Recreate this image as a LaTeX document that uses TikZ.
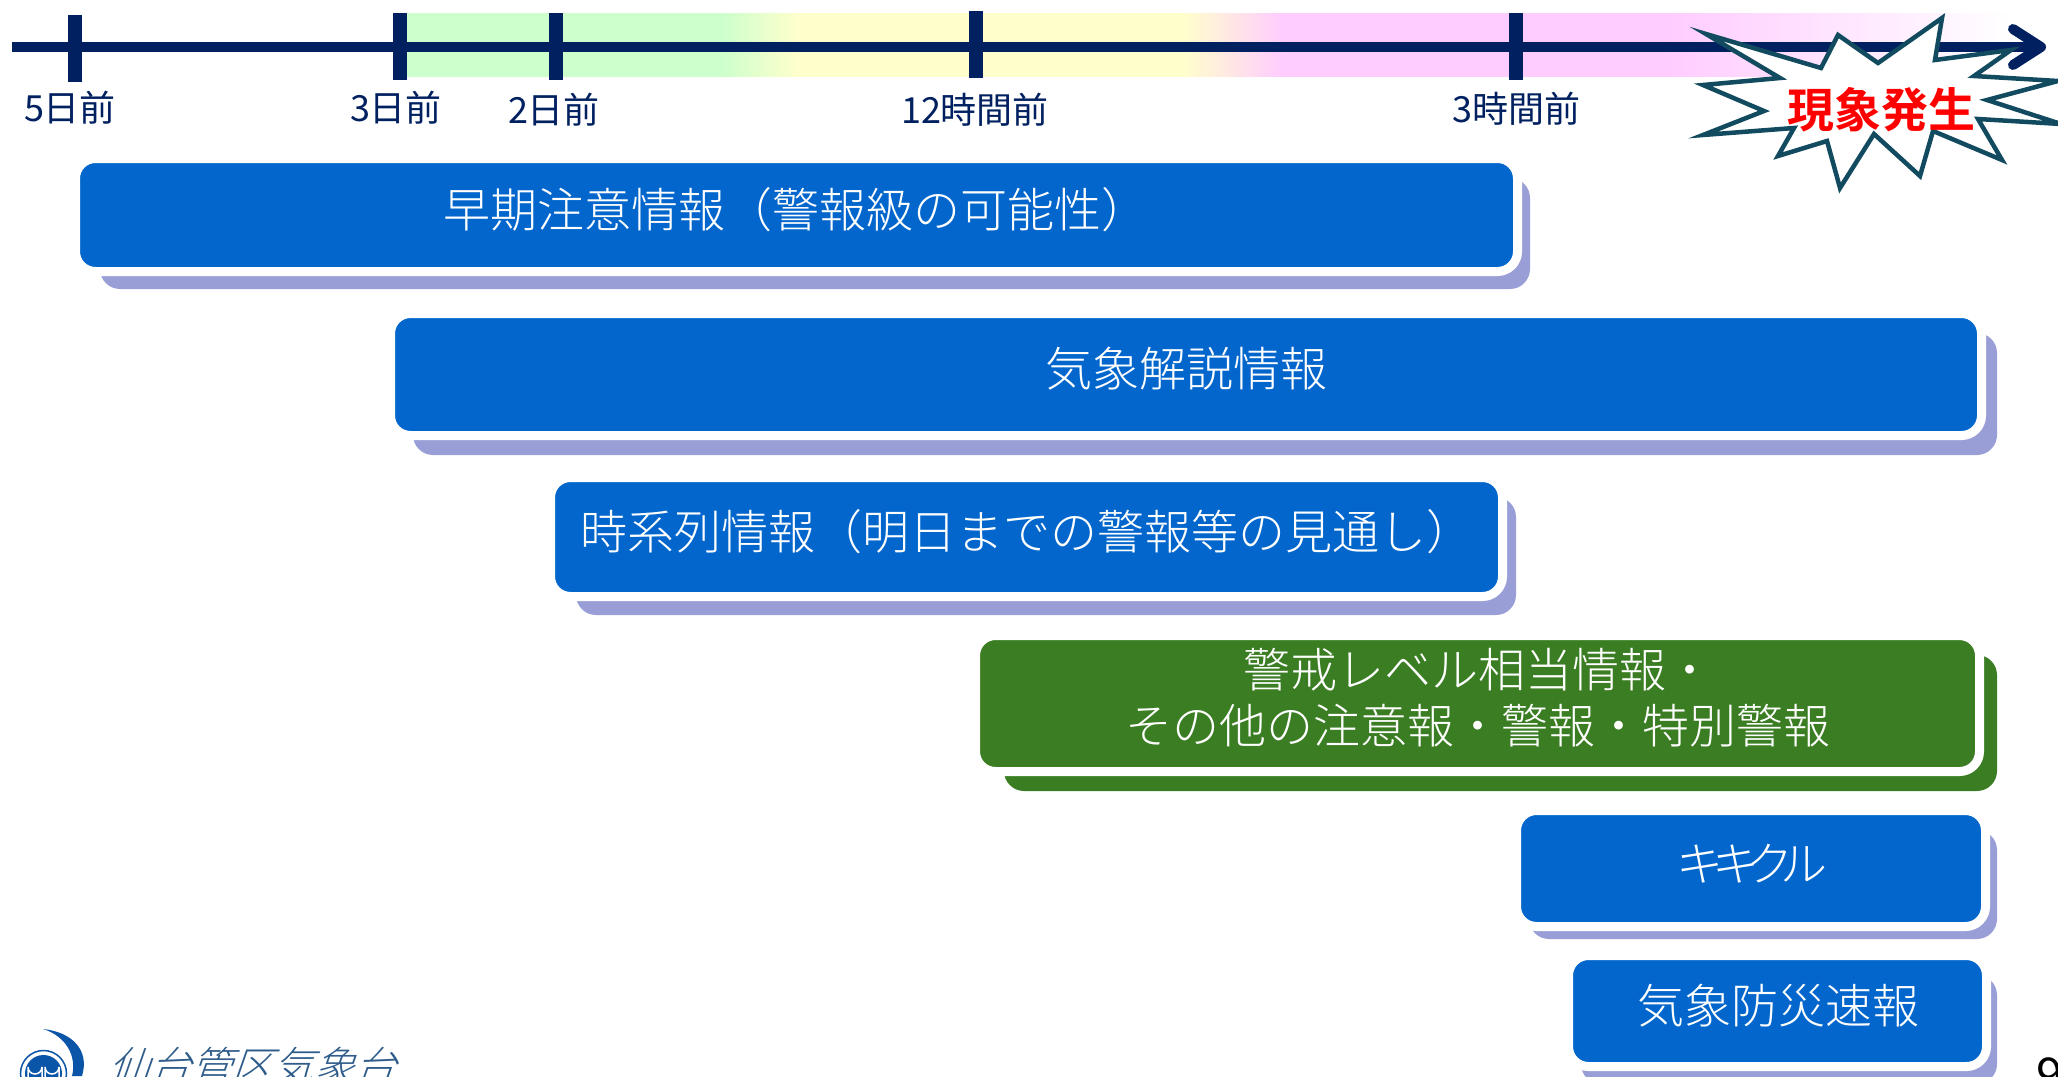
\documentclass[tikz,border=0pt]{standalone}
\usepackage{fontspec}
\setmainfont{Noto Sans CJK JP Light}[BoldFont={Noto Sans CJK JP Bold}]
\newfontfamily\regularfont{Noto Sans CJK JP}
\newfontfamily\logofont[FakeSlant=0.35]{Noto Sans CJK JP Light}
\usetikzlibrary{arrows.meta}
\definecolor{axisnavy}{HTML}{002060}
\definecolor{boxblue}{HTML}{0266CC}
\definecolor{boxgreen}{HTML}{3B7D23}
\definecolor{shadowblue}{HTML}{999FD6}
\definecolor{burstedge}{HTML}{124B5F}
\definecolor{logoblue}{HTML}{0B55A8}
\definecolor{logotext}{HTML}{2F5C8A}
\definecolor{bandgreen}{HTML}{CCFFCC}
\definecolor{bandyellow}{HTML}{FFFFCC}
\definecolor{bandpink}{HTML}{FFCCFF}
\tikzset{
  tick/.style={draw=none,fill=axisnavy,minimum width=13.5pt,inner sep=0pt},
  ticklabel/.style={text=axisnavy,font=\regularfont\fontsize{36}{40}\selectfont,inner sep=0pt},
  shadowbox/.style={rounded corners=20pt},
  infobox/.style={draw=white,line width=9pt,rounded corners=20pt},
  infotext/.style={text=white,font=\fontsize{47}{56}\selectfont,align=center,inner sep=0pt},
}
\newcommand{\infobar}[8]{% fill, shadow fill, x1, y1, x2, y2, shadow x1, shadow corner
  \fill [shadowbox,fill=#2] (#7,#4+15) rectangle (#8);
  \draw [infobox,fill=#1] (#3-4.5,#4-4.5) rectangle (#5+4.5,#6+4.5);
}
\begin{document}
\begin{tikzpicture}[x=1pt,y=-1pt]
\useasboundingbox (0,0) rectangle (2058,1076);
\clip (0,0) rectangle (2058,1076);

% colour band behind the axis
\foreach \xa/\xb/\ca/\cb in {400/721/bandgreen/bandgreen,721/798/bandgreen/bandyellow,
  798/1183/bandyellow/bandyellow,1183/1282/bandyellow/bandpink,
  1282/1667/bandpink/bandpink,1667/2012/bandpink/white}
  \shade [left color=\ca,right color=\cb] (\xa,13) rectangle (\xb+0.5,76);

\coordinate (axisstart) at (12,47);
\coordinate (axisend) at (2046,47);
\draw [axisnavy,line width=10pt,-{Straight Barb[round,length=28pt,width=36pt]}] (axisstart) -- (axisend);

\node (t5d) [tick,minimum height=67pt] at (75,48.5) {};
\node (t12h) [tick,minimum height=67pt] at (976,44.5) {};
\foreach \n/\xx in {t3d/400,t2d/556,t3h/1516}
  \node (\n) [tick,minimum height=67pt] at (\xx,46.5) {};

\node (l5d) [ticklabel] at (70,108) {5日前};
\node (l3d) [ticklabel] at (396,108) {3日前};
\node (l2d) [ticklabel] at (554,110) {2日前};
\node (l12h) [ticklabel] at (975,110) {12時間前};
\node (l3h) [ticklabel] at (1516,109) {3時間前};

% event burst
\draw [burstedge,fill=white,line width=4.5pt,miter limit=20]
  (1706,34) -- (1821,68) -- (1838,35) -- (1878,63) -- (1942,18) -- (1935,60)
  -- (2011,50) -- (1974,76) -- (2058,81) -- (1987,100) -- (2061,124) -- (1978,119)
  -- (2002,160) -- (1933,131) -- (1920,176) -- (1874,134) -- (1840,188) -- (1827,141)
  -- (1778,156) -- (1794,128) -- (1703,135) -- (1764,111) -- (1703,85) -- (1780,78) -- cycle;
\node (event) [text=red,font=\fontsize{47}{56}\selectfont\bfseries,inner sep=0pt] at (1881,110) {現象発生};

% information bars
\infobar{boxblue}{shadowblue}{80}{163}{1513}{267}{100}{1530,289}
\infobar{boxblue}{shadowblue}{395}{318}{1977}{431}{413}{1997,455}
\infobar{boxblue}{shadowblue}{555}{482}{1498}{592}{576}{1516,615}
\infobar{boxgreen}{boxgreen}{980}{640}{1975}{767}{1004}{1997,791}
\infobar{boxblue}{shadowblue}{1521}{815}{1981}{922}{1529}{1997,939}
\infobar{boxblue}{shadowblue}{1573}{960}{1982}{1062}{1581}{1997,1084}

\node (early) [infotext] at (796,210) {早期注意情報（警報級の可能性）};
\node (comment) [infotext] at (1186,369) {気象解説情報};
\node (series) [infotext] at (1027,532) {時系列情報（明日までの警報等の見通し）};
\node (warnlevel) [infotext] at (1478,698) {警戒レベル相当情報・\\その他の注意報・警報・特別警報};
\node (kikikuru) [infotext] at (1752,864) {キ\kern-11pt キ\kern-13pt ク\kern-13pt ル};
\node (flash) [infotext] at (1778,1006) {気象防災速報};

% office logo and page number
\fill [logoblue] (43,1029) .. controls (72,1032) and (90,1050) .. (82,1076)
  -- (72,1076) .. controls (77,1056) and (66,1036) .. (43,1029) -- cycle;
\draw [logoblue,fill=white,line width=1.5pt] (43.5,1073.5) circle (23);
\fill [logoblue] (43.5,1073.5) circle (18.5);
\foreach \xx in {35,52} {
  \draw [white,line width=1.5pt] (\xx-7,1080) -- (\xx-7,1067) arc (180:0:7) -- (\xx+7,1080);
}
\node (office) [text=logotext,font=\logofont\fontsize{41}{48}\selectfont,inner sep=0pt,anchor=west] at (108,1066) {仙台管区気象台};
\node (pageno) [font=\regularfont\fontsize{48}{52}\selectfont,inner sep=0pt,anchor=west] at (2036,1075) {9};
\end{tikzpicture}
\end{document}
